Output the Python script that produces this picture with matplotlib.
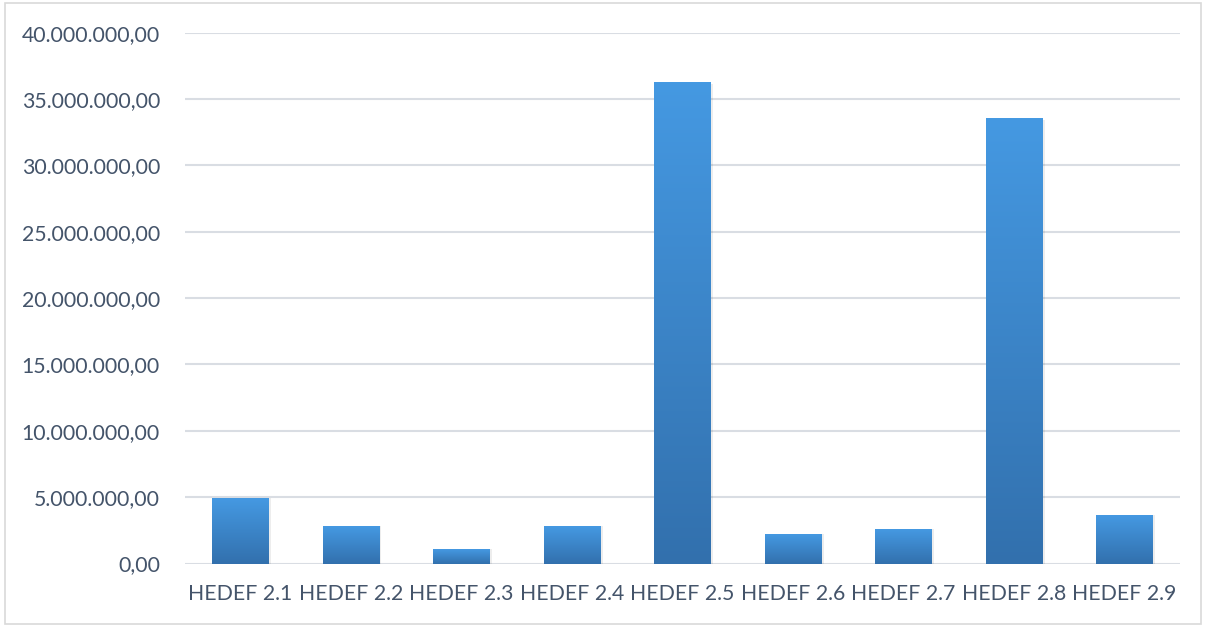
import numpy as np
import matplotlib.pyplot as plt
from matplotlib.colors import LinearSegmentedColormap
from matplotlib.patches import Rectangle
from matplotlib.ticker import FuncFormatter

###################################################################
categories = ["HEDEF 2.1", "HEDEF 2.2", "HEDEF 2.3", "HEDEF 2.4", "HEDEF 2.5",
              "HEDEF 2.6", "HEDEF 2.7", "HEDEF 2.8", "HEDEF 2.9"]
values = [4950000, 2830000, 1090000, 2830000, 36280000,
          2220000, 2600000, 33570000, 3650000]
y_ticks = [0, 5000000, 10000000, 15000000, 20000000,
           25000000, 30000000, 35000000, 40000000]
###################################################################

def tr_format(v, pos=None):
    s = f"{v:,.2f}"
    return s.replace(",", "X").replace(".", ",").replace("X", ".")

plt.rcParams['font.family'] = ['Lato', 'DejaVu Sans']
text_color = "#44546a"

fig = plt.figure(figsize=(12.06, 6.26), dpi=100)
ax = fig.add_axes([0.1534, 0.0998, 0.825, 0.848])

# figure border
fig.patches.append(Rectangle((0.004, 0.003), 0.992, 0.993, transform=fig.transFigure,
                             fill=False, edgecolor="#d9d9d9", linewidth=1.2))

x = np.arange(len(categories))
width = 0.51
bars = ax.bar(x, values, width=width, color="none", zorder=3)

cmap = LinearSegmentedColormap.from_list("blue_grad", ["#3270ad", "#4599e2"])
grad = np.linspace(0, 1, 256).reshape(-1, 1)
for b in bars:
    x0 = b.get_x()
    h = b.get_height()
    # soft shadow
    ax.add_patch(Rectangle((x0 + 0.01, 0), b.get_width() + 0.012, h * 0.995 if h > 0 else 0,
                           facecolor="#000000", alpha=0.07, edgecolor="none", zorder=2))
    ax.imshow(grad, extent=[x0, x0 + b.get_width(), 0, h], origin="lower",
              aspect="auto", cmap=cmap, zorder=4)

ax.set_xlim(-0.5, len(categories) - 0.5)
ax.set_ylim(0, 40000000)
ax.set_yticks(y_ticks)
ax.yaxis.set_major_formatter(FuncFormatter(tr_format))
ax.set_xticks(x)
ax.set_xticklabels(categories)

ax.grid(axis="y", color="#d9dde3", linewidth=1.5, zorder=0)
ax.set_axisbelow(True)
for s in ax.spines.values():
    s.set_visible(False)
ax.tick_params(axis="both", length=0, colors=text_color, labelsize=15.3)
ax.tick_params(axis="y", pad=18)
ax.tick_params(axis="x", pad=15)

fig.savefig("out.png", dpi=100)
